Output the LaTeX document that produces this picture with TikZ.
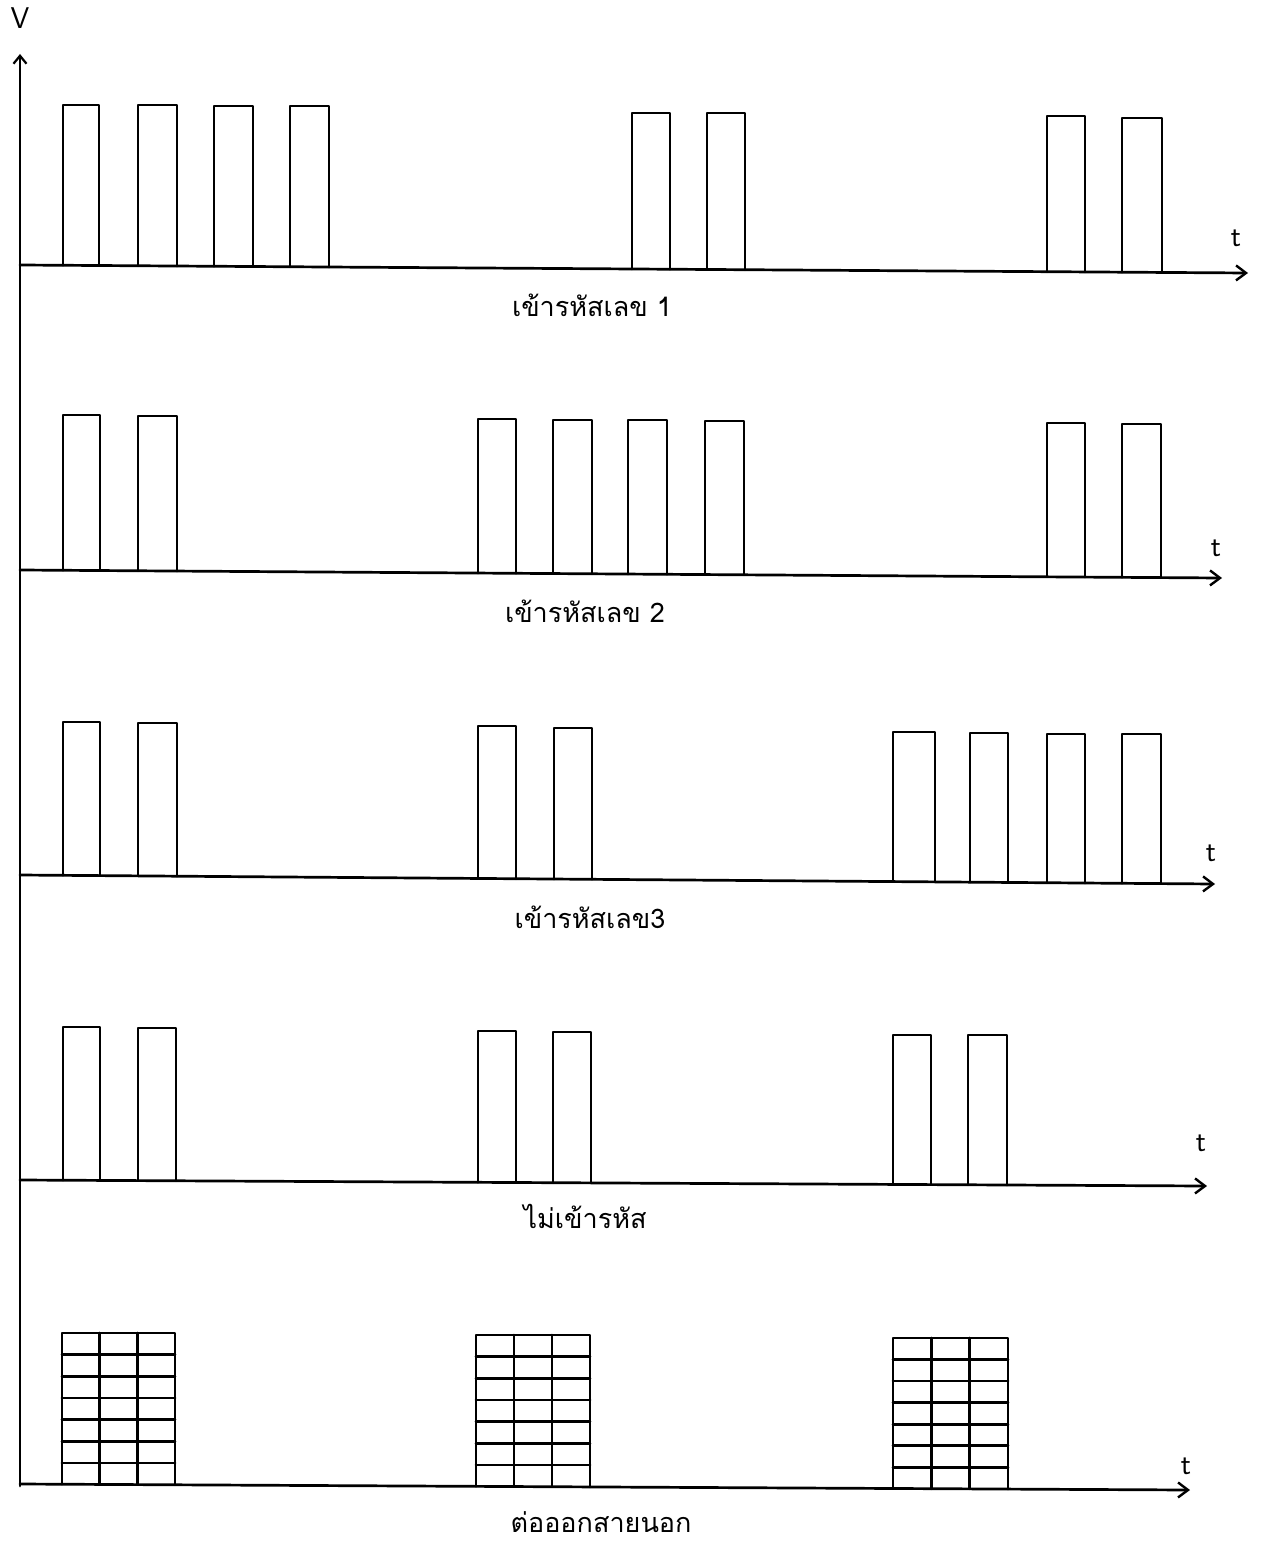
\documentclass[tikz,border=0pt]{standalone}
\usepackage{fontspec}
\newfontfamily\thaifont[Script=Thai]{Loma}
\usetikzlibrary{arrows.meta}
\tikzset{
  sig/.style={line width=2.7pt, line cap=round, line join=round},
  taxis/.style={sig, -{Straight Barb[length=10pt,width=15pt,line width=2.4pt]}},
  lbl/.style={font=\thaifont\fontsize{27}{29}\selectfont, inner sep=0pt},
  tlbl/.style={font=\sffamily\fontsize{30}{32}\selectfont, inner sep=0pt},
}
\newcommand\drawrow[4]{%
  \draw[taxis] (20,#1) -- (#2,#3);
  \foreach \a/\b/\h in {#4} {
    \pgfmathsetmacro\ya{#1+(#3-#1)*(\a-20)/(#2-20)}
    \pgfmathsetmacro\yb{#1+(#3-#1)*(\b-20)/(#2-20)}
    \draw[sig] (\a,\ya) -- (\a,\h) -- (\b,\h) -- (\b,\yb);
  }
}
\begin{document}
\begin{tikzpicture}[x=1pt,y=-1pt]
\useasboundingbox (0,0) rectangle (1261,1546);
% vertical axis
\draw[sig,-{Straight Barb[length=8pt,width=13pt,line width=2.2pt]}] (20,1486) -- (20,54);
\node[tlbl] (V) at (20,18) {V};
% row 1
\drawrow{265}{1248}{273}{63/99/105,138/177/105,214/253/106,290/329/106,632/670/113,707/745/113,1047/1085/116,1122/1162/118}
\node[tlbl] (t1) at (1236,238) {t};
\node[lbl] (L1) at (592,305) {เข้ารหัสเลข 1};
% row 2
\drawrow{570}{1222}{578}{63/100/415,138/177/416,478/516/419,553/592/420,628/667/420,705/744/421,1047/1085/423,1122/1161/424}
\node[tlbl] (t2) at (1216,548) {t};
\node[lbl] (L2) at (585,611) {เข้ารหัสเลข 2};
% row 3
\drawrow{875}{1215}{884}{63/100/722,138/177/723,478/516/726,554/592/728,893/935/732,970/1008/733,1047/1085/734,1122/1161/734}
\node[tlbl] (t3) at (1211,853) {t};
\node[lbl] (L3) at (590,917) {เข้ารหัสเลข3};
% row 4
\drawrow{1180}{1207}{1186}{63/100/1027,138/176/1028,478/516/1031,553/591/1032,893/931/1035,968/1007/1035}
\node[tlbl] (t4) at (1201,1143) {t};
\node[lbl] (L4) at (585,1216) {ไม่เข้ารหัส};
% row 5
\draw[taxis] (20,1484) -- (1190,1490);
\foreach \a/\b/\h in {62/175/1333,476/590/1335,893/1008/1338} {
  \pgfmathsetmacro\ya{1484+6*(\a-20)/1170}
  \pgfmathsetmacro\yb{1484+6*(\b-20)/1170}
  \pgfmathsetmacro\ym{(\ya+\yb)/2}
  \draw[sig] (\a,\ya) -- (\a,\h) -- (\b,\h) -- (\b,\yb);
  \foreach \k in {1,2} {
    \pgfmathsetmacro\xc{\a+(\b-\a)*\k/3}
    \draw[sig] (\xc,\h) -- (\xc,\ym);
  }
  \foreach \k in {1,...,6} {
    \pgfmathsetmacro\yc{\h+(\ym-\h)*\k/7}
    \draw[sig] (\a,\yc) -- (\b,\yc);
  }
}
\node[tlbl] (t5) at (1186,1466) {t};
\node[lbl] (L5) at (601,1522) {ต่อออกสายนอก};
\end{tikzpicture}
\end{document}
